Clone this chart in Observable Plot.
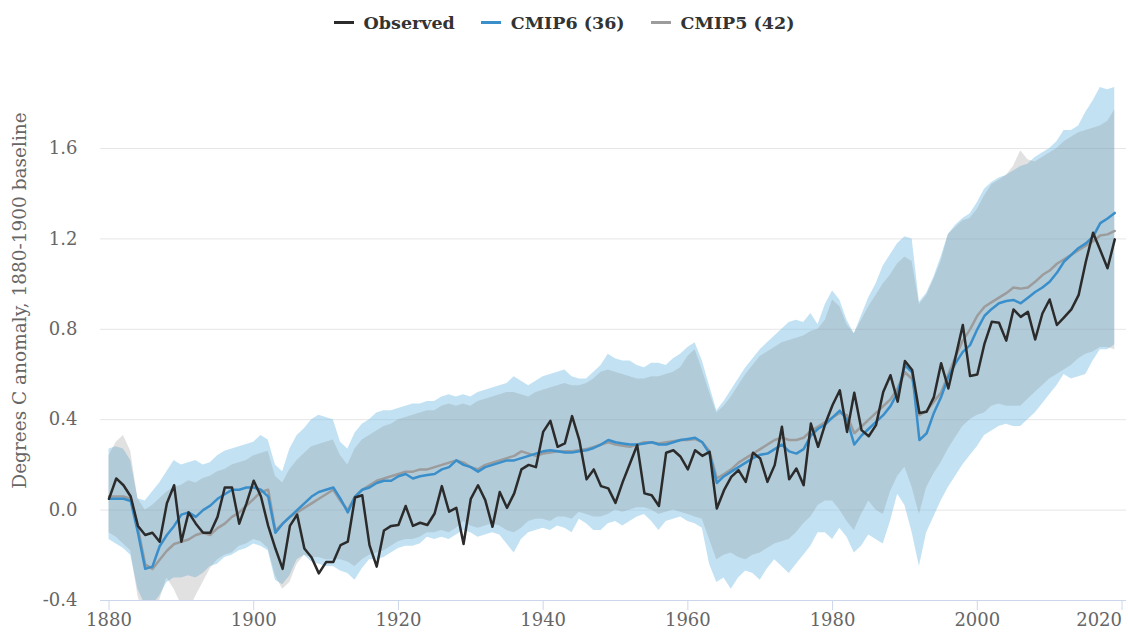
<!DOCTYPE html>
<html>
<head>
<meta charset="utf-8">
<script src="https://cdn.jsdelivr.net/npm/d3@7"></script>
<script src="https://cdn.jsdelivr.net/npm/@observablehq/plot@0.6"></script>
<style>
  body { margin: 0; background: #fff; font-family: "DejaVu Serif", serif; }
  #legend { height: 45px; display: flex; justify-content: center; align-items: center; gap: 26px;
            font-weight: bold; font-size: 17.5px; color: #333; }
  .item { display: flex; align-items: center; gap: 10px; }
  .sw { width: 20px; height: 3px; }
</style>
</head>
<body>
<div id="legend"></div>
<div id="chart"></div>
<script>
// ---------------- DATA ----------------
const years = d3.range(1880, 2020);

const observed = [
  0.05, 0.14, 0.11, 0.06, -0.07, -0.11, -0.10, -0.14, 0.03, 0.11,
  -0.14, -0.01, -0.06, -0.10, -0.10, -0.03, 0.10, 0.10, -0.06, 0.03,
  0.13, 0.06, -0.07, -0.17, -0.26, -0.07, -0.02, -0.17, -0.21, -0.28,
  -0.23, -0.23, -0.155, -0.14, 0.056, 0.066, -0.155, -0.25, -0.09, -0.07,
  -0.066, 0.018, -0.07, -0.056, -0.066, -0.015, 0.106, -0.007, 0.01, -0.15,
  0.05, 0.11, 0.044, -0.074, 0.08, 0.01, 0.074, 0.18, 0.20, 0.19,
  0.346, 0.395, 0.28, 0.295, 0.416, 0.31, 0.136, 0.18, 0.106, 0.096,
  0.032, 0.125, 0.206, 0.288, 0.074, 0.066, 0.018, 0.254, 0.265, 0.236,
  0.18, 0.265, 0.24, 0.258, 0.007, 0.088, 0.147, 0.177, 0.125, 0.254,
  0.228, 0.125, 0.199, 0.369, 0.136, 0.184, 0.11, 0.383, 0.28, 0.383,
  0.465, 0.53, 0.346, 0.519, 0.354, 0.327, 0.376, 0.523, 0.597, 0.48,
  0.66, 0.62, 0.43, 0.435, 0.50, 0.65, 0.538, 0.678, 0.819, 0.593,
  0.60, 0.737, 0.833, 0.829, 0.75, 0.888, 0.855, 0.877, 0.755, 0.87,
  0.932, 0.819, 0.853, 0.888, 0.951, 1.099, 1.227, 1.15, 1.07, 1.198
];

const cmip6Mean = [
  0.05, 0.05, 0.05, 0.04, -0.10, -0.26, -0.25, -0.16, -0.11, -0.07,
  -0.02, -0.01, -0.03, 0.00, 0.02, 0.05, 0.07, 0.09, 0.09, 0.10,
  0.10, 0.09, 0.06, -0.10, -0.06, -0.03, 0.00, 0.03, 0.06, 0.08,
  0.09, 0.10, 0.05, -0.01, 0.06, 0.09, 0.10, 0.12, 0.13, 0.13,
  0.15, 0.16, 0.14, 0.15, 0.155, 0.16, 0.18, 0.19, 0.22, 0.20,
  0.19, 0.17, 0.19, 0.20, 0.21, 0.22, 0.22, 0.23, 0.24, 0.25,
  0.26, 0.265, 0.26, 0.255, 0.255, 0.26, 0.265, 0.275, 0.29, 0.31,
  0.30, 0.295, 0.29, 0.29, 0.295, 0.30, 0.29, 0.29, 0.30, 0.31,
  0.315, 0.32, 0.30, 0.25, 0.12, 0.15, 0.17, 0.19, 0.21, 0.23,
  0.245, 0.25, 0.27, 0.29, 0.26, 0.25, 0.27, 0.33, 0.36, 0.38,
  0.41, 0.44, 0.40, 0.29, 0.33, 0.36, 0.39, 0.42, 0.46, 0.52,
  0.64, 0.61, 0.31, 0.34, 0.43, 0.50, 0.59, 0.65, 0.70, 0.73,
  0.80, 0.86, 0.89, 0.915, 0.925, 0.93, 0.915, 0.94, 0.965, 0.985,
  1.01, 1.05, 1.10, 1.13, 1.16, 1.18, 1.21, 1.27, 1.29, 1.315
];

const cmip5Mean = [
  0.06, 0.06, 0.06, 0.05, -0.08, -0.24, -0.26, -0.22, -0.18, -0.15,
  -0.14, -0.13, -0.11, -0.10, -0.11, -0.08, -0.06, -0.03, -0.01, 0.02,
  0.05, 0.08, 0.09, -0.09, -0.06, -0.03, -0.01, 0.01, 0.03, 0.05,
  0.07, 0.09, 0.04, 0.00, 0.06, 0.09, 0.11, 0.13, 0.14, 0.15,
  0.16, 0.17, 0.17, 0.18, 0.18, 0.19, 0.20, 0.21, 0.22, 0.21,
  0.19, 0.18, 0.20, 0.21, 0.22, 0.23, 0.24, 0.26, 0.25, 0.24,
  0.25, 0.255, 0.26, 0.26, 0.26, 0.265, 0.27, 0.28, 0.29, 0.30,
  0.29, 0.285, 0.28, 0.29, 0.30, 0.30, 0.295, 0.30, 0.305, 0.31,
  0.31, 0.315, 0.30, 0.26, 0.14, 0.16, 0.18, 0.21, 0.23, 0.25,
  0.27, 0.29, 0.31, 0.32, 0.31, 0.31, 0.32, 0.35, 0.37, 0.39,
  0.41, 0.43, 0.42, 0.34, 0.37, 0.40, 0.43, 0.46, 0.49, 0.54,
  0.61, 0.58, 0.42, 0.44, 0.48, 0.52, 0.60, 0.68, 0.75, 0.80,
  0.86, 0.90, 0.92, 0.94, 0.96, 0.985, 0.98, 0.985, 1.01, 1.04,
  1.06, 1.09, 1.11, 1.13, 1.15, 1.17, 1.19, 1.215, 1.22, 1.235
];

const cmip6Max = [
  0.27, 0.28, 0.27, 0.22, 0.05, 0.04, 0.08, 0.12, 0.17, 0.22,
  0.20, 0.21, 0.22, 0.20, 0.21, 0.24, 0.26, 0.27, 0.28, 0.29,
  0.30, 0.33, 0.31, 0.20, 0.17, 0.27, 0.33, 0.36, 0.40, 0.42,
  0.41, 0.40, 0.30, 0.27, 0.34, 0.38, 0.40, 0.43, 0.44, 0.44,
  0.45, 0.46, 0.47, 0.47, 0.48, 0.48, 0.50, 0.51, 0.50, 0.51,
  0.50, 0.52, 0.53, 0.54, 0.55, 0.56, 0.59, 0.57, 0.55, 0.57,
  0.59, 0.60, 0.61, 0.62, 0.59, 0.58, 0.58, 0.61, 0.64, 0.69,
  0.67, 0.66, 0.66, 0.64, 0.63, 0.65, 0.65, 0.64, 0.67, 0.69,
  0.72, 0.74, 0.66, 0.55, 0.44, 0.48, 0.53, 0.58, 0.63, 0.67,
  0.71, 0.74, 0.77, 0.80, 0.83, 0.84, 0.83, 0.87, 0.82, 0.91,
  0.97, 0.93, 0.84, 0.78, 0.86, 0.94, 1.00, 1.08, 1.13, 1.18,
  1.21, 1.20, 0.92, 0.96, 1.03, 1.12, 1.22, 1.26, 1.29, 1.31,
  1.36, 1.42, 1.45, 1.47, 1.48, 1.50, 1.52, 1.53, 1.56, 1.58,
  1.60, 1.63, 1.68, 1.68, 1.70, 1.76, 1.81, 1.87, 1.86, 1.87
];

const cmip6Min = [
  -0.13, -0.15, -0.17, -0.20, -0.35, -0.42, -0.42, -0.38, -0.32, -0.30,
  -0.30, -0.29, -0.30, -0.28, -0.25, -0.24, -0.21, -0.20, -0.18, -0.17,
  -0.15, -0.16, -0.18, -0.31, -0.33, -0.29, -0.22, -0.20, -0.23, -0.24,
  -0.25, -0.25, -0.27, -0.28, -0.31, -0.26, -0.22, -0.22, -0.21, -0.19,
  -0.17, -0.16, -0.16, -0.15, -0.12, -0.13, -0.12, -0.13, -0.11, -0.09,
  -0.10, -0.12, -0.11, -0.10, -0.11, -0.15, -0.19, -0.13, -0.10, -0.09,
  -0.08, -0.09, -0.07, -0.08, -0.10, -0.04, -0.06, -0.09, -0.09, -0.06,
  -0.05, -0.07, -0.05, -0.03, -0.02, -0.05, -0.09, -0.05, -0.04, -0.03,
  -0.05, -0.06, -0.08, -0.24, -0.32, -0.30, -0.35, -0.30, -0.27, -0.28,
  -0.31, -0.26, -0.22, -0.25, -0.28, -0.24, -0.20, -0.16, -0.10, -0.10,
  -0.13, -0.08, -0.12, -0.19, -0.16, -0.11, -0.13, -0.15, -0.05, 0.07,
  0.02, -0.10, -0.25, -0.10, -0.03, 0.04, 0.10, 0.15, 0.20, 0.24,
  0.28, 0.33, 0.35, 0.37, 0.38, 0.37, 0.37, 0.40, 0.43, 0.47,
  0.51, 0.55, 0.60, 0.58, 0.59, 0.60, 0.66, 0.71, 0.71, 0.73
];

const cmip5Max = [
  0.24, 0.30, 0.33, 0.26, 0.05, 0.00, 0.02, 0.05, 0.08, 0.10,
  0.11, 0.13, 0.12, 0.14, 0.15, 0.17, 0.18, 0.20, 0.21, 0.22,
  0.24, 0.25, 0.26, 0.15, 0.12, 0.18, 0.22, 0.25, 0.28, 0.29,
  0.30, 0.31, 0.24, 0.20, 0.27, 0.31, 0.33, 0.35, 0.37, 0.38,
  0.40, 0.41, 0.42, 0.43, 0.44, 0.44, 0.46, 0.47, 0.46, 0.47,
  0.46, 0.48, 0.49, 0.50, 0.51, 0.52, 0.52, 0.51, 0.50, 0.52,
  0.53, 0.54, 0.55, 0.56, 0.55, 0.55, 0.56, 0.58, 0.61, 0.62,
  0.61, 0.60, 0.59, 0.58, 0.58, 0.59, 0.59, 0.60, 0.61, 0.63,
  0.68, 0.71, 0.62, 0.52, 0.43, 0.46, 0.50, 0.55, 0.60, 0.64,
  0.68, 0.70, 0.72, 0.74, 0.75, 0.76, 0.77, 0.79, 0.80, 0.84,
  0.93, 0.90, 0.82, 0.78, 0.84, 0.90, 0.95, 1.00, 1.04, 1.09,
  1.12, 1.10, 0.91, 0.95, 1.02, 1.10, 1.22, 1.25, 1.28, 1.29,
  1.33, 1.39, 1.44, 1.46, 1.48, 1.52, 1.59, 1.55, 1.54, 1.56,
  1.58, 1.60, 1.63, 1.65, 1.67, 1.68, 1.69, 1.70, 1.72, 1.77
];

const cmip5Min = [
  -0.10, -0.12, -0.15, -0.18, -0.38, -0.48, -0.50, -0.40, -0.30, -0.35,
  -0.42, -0.45, -0.38, -0.32, -0.26, -0.22, -0.20, -0.19, -0.16, -0.15,
  -0.13, -0.14, -0.17, -0.29, -0.35, -0.32, -0.24, -0.20, -0.21, -0.21,
  -0.22, -0.22, -0.22, -0.23, -0.25, -0.22, -0.20, -0.19, -0.18, -0.16,
  -0.14, -0.13, -0.13, -0.12, -0.10, -0.10, -0.09, -0.10, -0.08, -0.05,
  -0.07, -0.08, -0.07, -0.06, -0.07, -0.09, -0.10, -0.08, -0.05, -0.04,
  -0.04, -0.05, -0.03, -0.03, -0.04, -0.01, -0.02, -0.03, -0.03, -0.02,
  0.00, -0.01, 0.00, 0.01, 0.01, 0.00, -0.02, -0.01, 0.00, -0.01,
  -0.02, -0.03, -0.04, -0.13, -0.22, -0.20, -0.19, -0.21, -0.22, -0.20,
  -0.19, -0.17, -0.15, -0.14, -0.13, -0.10, -0.06, -0.03, 0.02, 0.04,
  0.04, 0.00, -0.05, -0.09, -0.02, 0.04, 0.00, -0.02, 0.08, 0.15,
  0.19, 0.10, -0.02, 0.10, 0.16, 0.21, 0.27, 0.32, 0.37, 0.40,
  0.42, 0.43, 0.46, 0.47, 0.46, 0.46, 0.46, 0.49, 0.52, 0.55,
  0.58, 0.60, 0.62, 0.64, 0.67, 0.69, 0.70, 0.72, 0.72, 0.71
];

const xTicks = [1880, 1900, 1920, 1940, 1960, 1980, 2000, 2020];
const yTicks = [-0.4, 0.0, 0.4, 0.8, 1.2, 1.6];
const yTitle = "Degrees C anomaly, 1880-1900 baseline";

const seriesNames = ["Observed", "CMIP6 (36)", "CMIP5 (42)"];
const seriesColors = ["#2b2b2b", "#3a8fcb", "#9c9c9c"];

// -------------- TABLE --------------
const table = years.map((year, i) => ({
  year,
  obs: observed[i],
  c6: cmip6Mean[i],
  c5: cmip5Mean[i],
  c6lo: cmip6Min[i],
  c6hi: cmip6Max[i],
  c5lo: cmip5Min[i],
  c5hi: cmip5Max[i]
}));

// -------------- LEGEND --------------
const legend = document.getElementById("legend");
seriesNames.forEach((name, i) => {
  const item = document.createElement("div");
  item.className = "item";
  const sw = document.createElement("span");
  sw.className = "sw";
  sw.style.background = seriesColors[i];
  const label = document.createElement("span");
  label.textContent = name;
  item.appendChild(sw);
  item.appendChild(label);
  legend.appendChild(item);
});

// -------------- PLOT --------------
const lastTick = xTicks[xTicks.length - 1];
const chart = Plot.plot({
  width: 1128,
  height: 590,
  marginLeft: 100,
  marginRight: 2,
  marginTop: 30,
  marginBottom: 35,
  style: { fontFamily: "DejaVu Serif, serif", fontSize: "18px", color: "#666", background: "#fff" },
  x: { domain: [1880, 2020], range: [108.5, 1121.5] },
  y: { domain: [-0.4, 1.9], range: [555, 35.2] },
  marks: [
    Plot.gridY(yTicks.filter(d => d > -0.4), { stroke: "#e6e6e6", strokeOpacity: 1 }),
    Plot.areaY(table, { x: "year", y1: "c6lo", y2: "c6hi", fill: "#78bee6", fillOpacity: 0.45, clip: true }),
    Plot.areaY(table, { x: "year", y1: "c5lo", y2: "c5hi", fill: "#808080", fillOpacity: 0.24, clip: true }),
    Plot.line(table, { x: "year", y: "c5", stroke: seriesColors[2], strokeWidth: 2.5, clip: true }),
    Plot.line(table, { x: "year", y: "c6", stroke: seriesColors[1], strokeWidth: 2.5, clip: true }),
    Plot.line(table, { x: "year", y: "obs", stroke: seriesColors[0], strokeWidth: 2.5, clip: true }),
    Plot.ruleY([-0.4], { stroke: "#ccd6eb", strokeWidth: 1 }),
    Plot.axisX(xTicks.filter(d => d !== lastTick), { tickFormat: d => String(d), tickSize: 10, tickPadding: 3,
                 stroke: "#ccd6eb", strokeOpacity: 1, fill: "#666", label: null }),
    Plot.axisX([lastTick], { tickFormat: d => String(d), tickSize: 10, tickPadding: 3, textAnchor: "end",
                 stroke: "#ccd6eb", strokeOpacity: 1, fill: "#666", label: null }),
    Plot.axisY({ ticks: yTicks, tickFormat: d => d.toFixed(1), tickSize: 0, tickPadding: 23,
                 fill: "#666", label: null }),
    Plot.text([yTitle], { frameAnchor: "left", textAnchor: "middle", rotate: -90, dx: -80, dy: -37.5,
                          fill: "#666", fontSize: 18.5, fontFamily: "DejaVu Serif" })
  ]
});
document.getElementById("chart").appendChild(chart);
</script>
</body>
</html>
